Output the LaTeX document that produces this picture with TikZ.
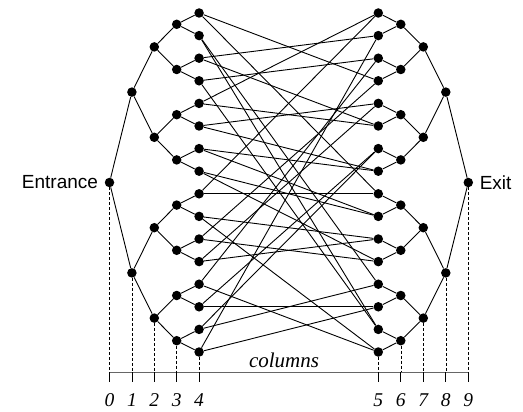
\documentclass[tikz,border=0pt]{standalone}
\usepackage{fontspec}
\setmainfont{Liberation Serif}
\newfontfamily\labelsans{Liberation Sans}
\begin{document}
\begin{tikzpicture}[x=1pt,y=-1pt,
  dot/.style={circle,fill=black,inner sep=0pt,minimum size=9.5pt},
  edge/.style={line width=0.9pt},
  guide/.style={line width=0.6pt,dash pattern=on 3pt off 2pt},
  tickline/.style={line width=0.8pt},
  axisline/.style={line width=1pt,black!60},
  collabel/.style={font=\itshape\fontsize{19.5}{19.5}\selectfont},
  colword/.style={font=\itshape\fontsize{21}{21}\selectfont},
  sidelabel/.style={font=\labelsans\fontsize{19}{19}\selectfont}]
\useasboundingbox (0,0) rectangle (523,412);
% nodes of both trees
\foreach \k in {0,...,4} {
  \pgfmathtruncatemacro\n{2^\k-1}
  \foreach \m in {0,...,\n} {
    \pgfmathsetmacro\yy{13+22.6*((\m+0.5)*2^(4-\k)-0.5)}
    \node[dot] (L\k-\m) at ({109.5+22.4*\k},\yy) {};
    \node[dot] (R\k-\m) at ({468.3-22.5*\k},\yy) {};
  }
}
% tree edges
\foreach \k in {1,...,4} {
  \pgfmathtruncatemacro\n{2^\k-1}
  \pgfmathtruncatemacro\p{\k-1}
  \foreach \m in {0,...,\n} {
    \pgfmathtruncatemacro\q{floor(\m/2)}
    \draw[edge] (L\p-\q) -- (L\k-\m);
    \draw[edge] (R\p-\q) -- (R\k-\m);
  }
}
% welding between the leaves
\foreach \a/\b in {0/3,0/8,1/12,1/14,2/1,2/5,3/2,3/14,4/0,4/5,5/4,5/7,6/7,6/9,7/9,7/11,
                   8/0,8/8,9/10,9/15,10/11,10/3,11/10,11/4,12/15,12/2,13/13,13/6,14/12,14/6,15/13,15/1}
  \draw[edge] (L4-\a) -- (R4-\b);
% axis, guides, ticks, labels
\foreach \k in {0,...,4} {
  \pgfmathtruncatemacro\n{2^\k-1}
  \pgfmathtruncatemacro\c{9-\k}
  \coordinate (AL\k) at ({109.5+22.4*\k},372);
  \coordinate (AR\k) at ({468.3-22.5*\k},372);
  \coordinate (TL\k) at ({109.5+22.4*\k},382);
  \coordinate (TR\k) at ({468.3-22.5*\k},382);
  \draw[guide] (L\k-\n) -- (AL\k);
  \draw[guide] (R\k-\n) -- (AR\k);
  \node[collabel] (NL\k) at ({109.5+22.4*\k},400) {\k};
  \node[collabel] (NR\k) at ({468.3-22.5*\k},400) {\c};
}
\draw[axisline] (AL0) -- (AR0);
\foreach \k in {0,...,4} {
  \draw[tickline] (AL\k) -- (TL\k);
  \draw[tickline] (AR\k) -- (TR\k);
}
\node[colword] (cols) at (284,360) {columns};
\node[sidelabel,anchor=east] (entr) at ([xshift=-3pt]L0-0.west) {Entrance};
\node[sidelabel,anchor=west] (exitlab) at ([xshift=3pt]R0-0.east) {Exit};
\end{tikzpicture}
\end{document}
